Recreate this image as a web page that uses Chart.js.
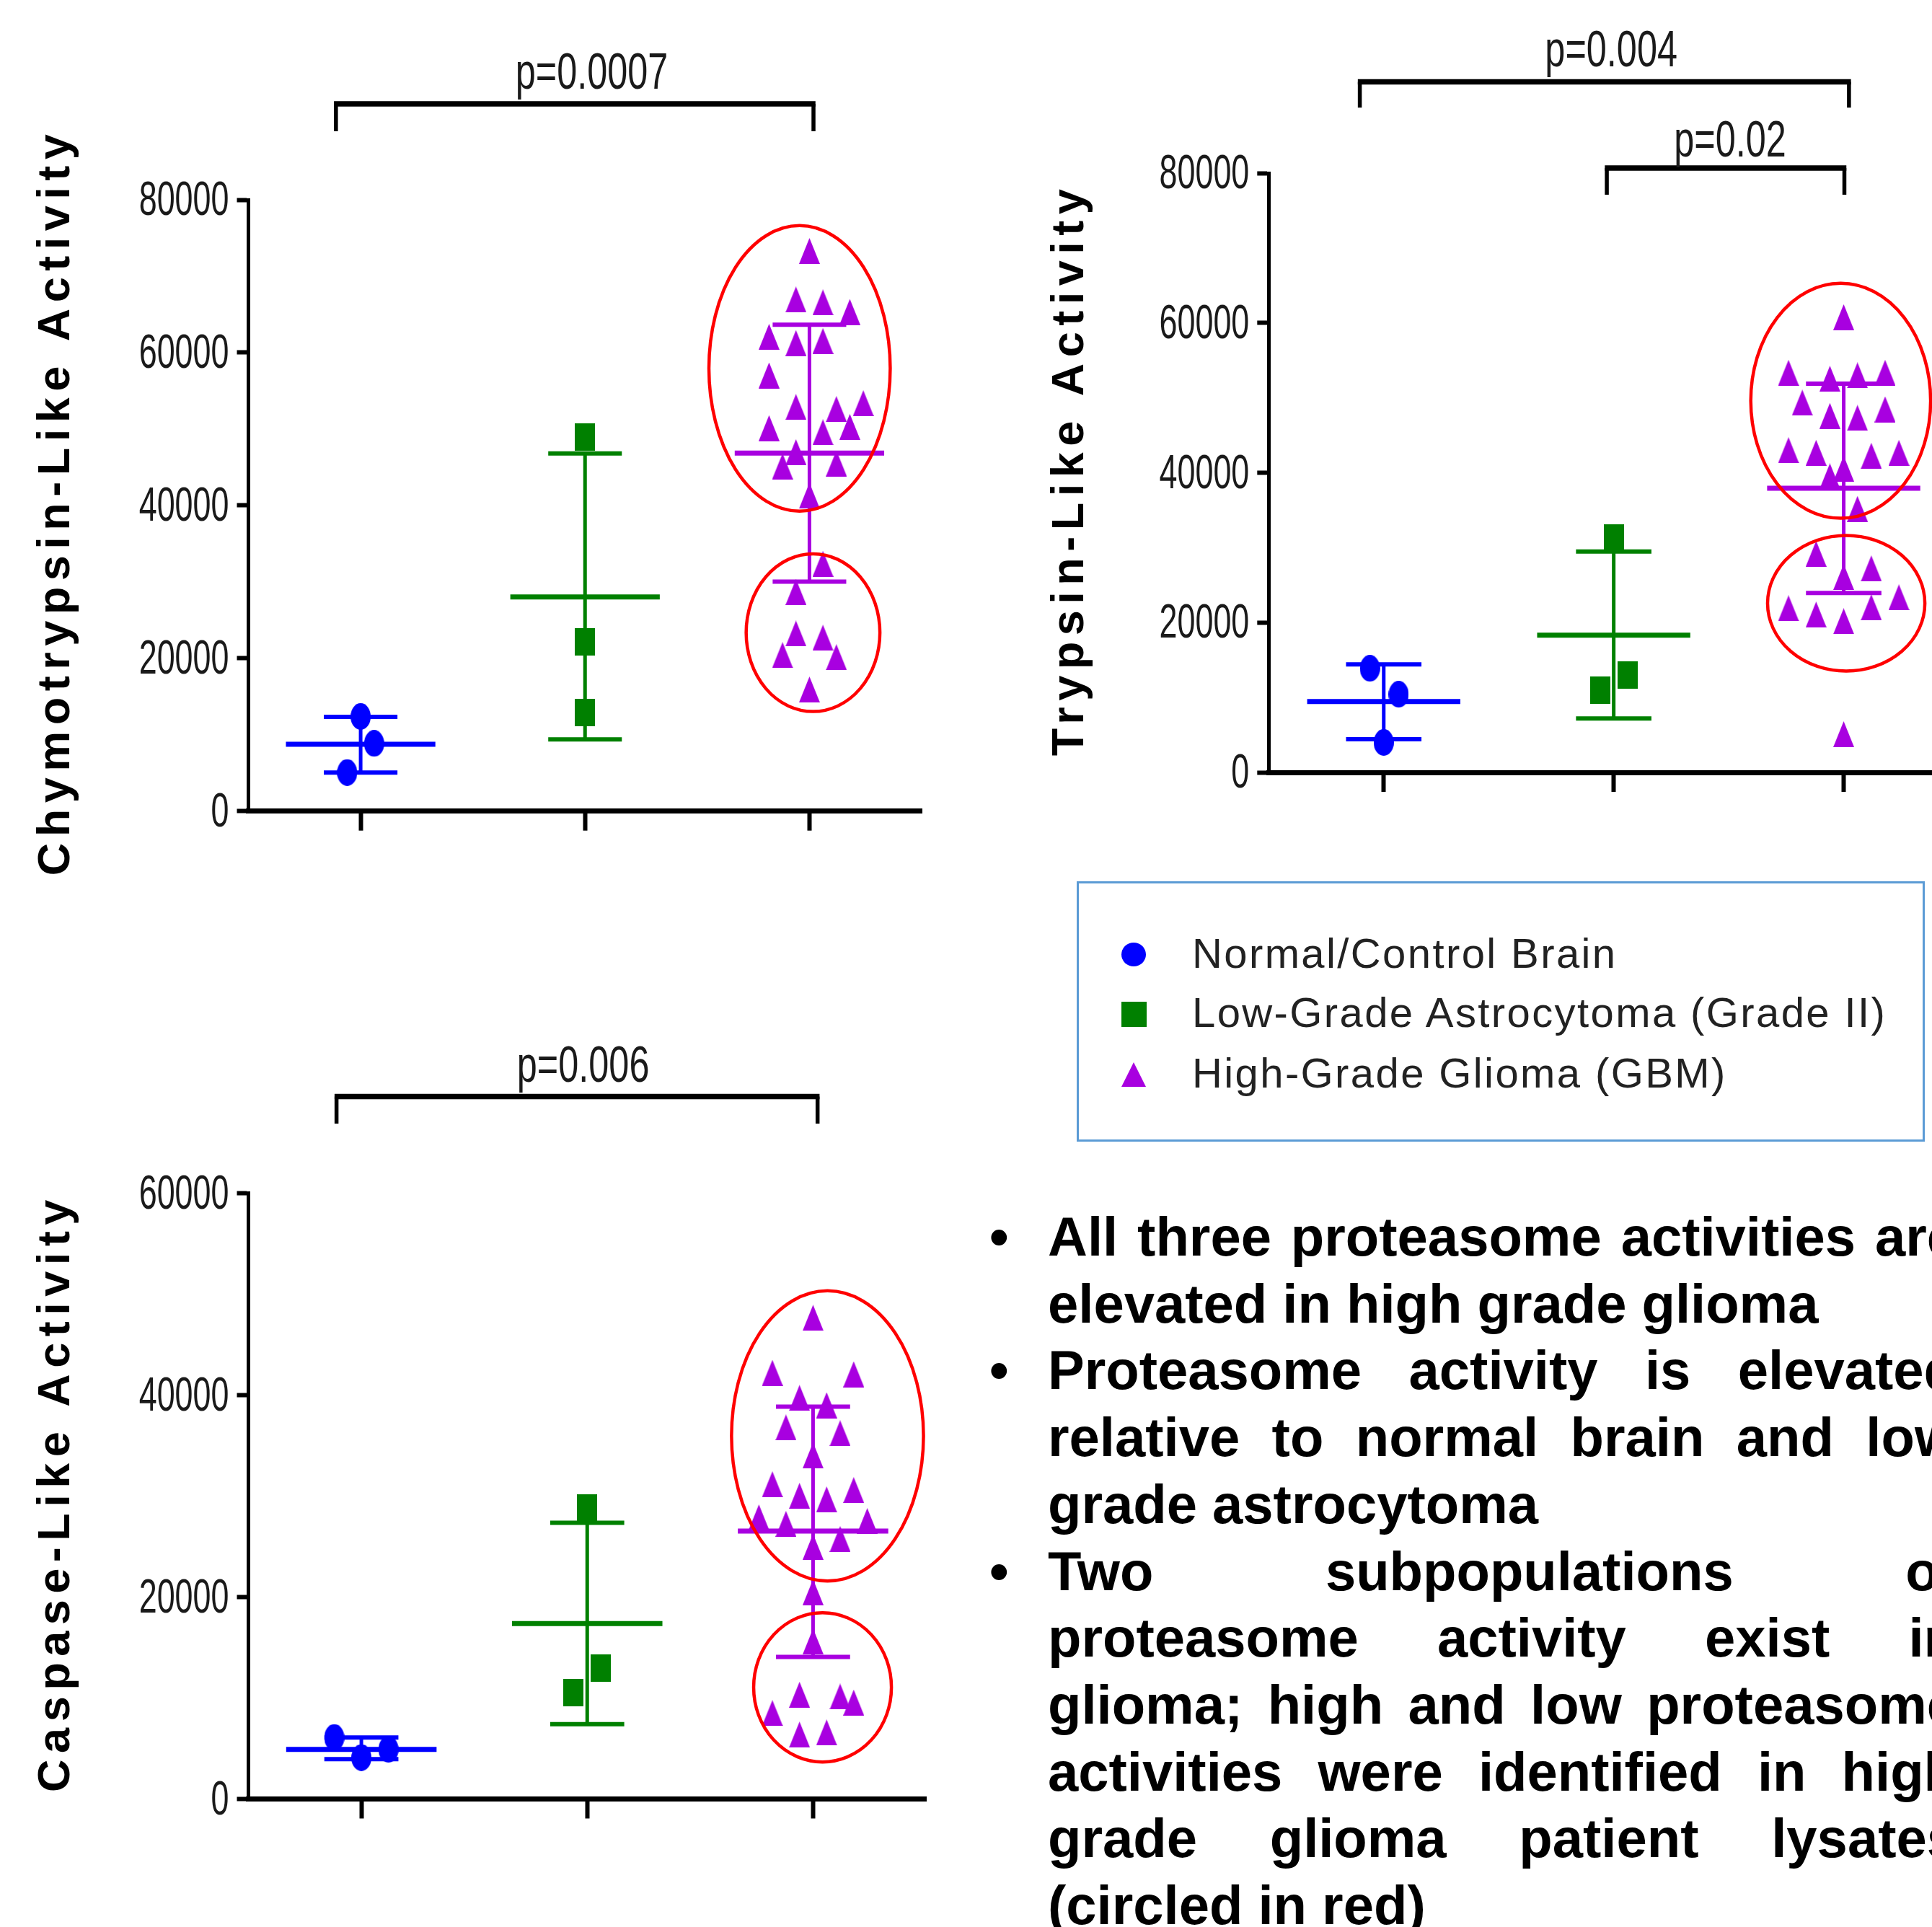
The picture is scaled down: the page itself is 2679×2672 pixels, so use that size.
<!DOCTYPE html>
<html lang="en">
<head>
    <meta charset="UTF-8">
    <meta name="viewport" content="width=device-width, initial-scale=1.0">
    <title>Proteasome Activity in Glioma</title>
    <script src="https://cdn.jsdelivr.net/npm/chart.js"></script>
    <style>
        html, body {
            margin: 0;
            padding: 0;
            width: 2679px;
            height: 2672px;
            overflow: hidden;
            background: #fff;
            font-family: "Liberation Sans", Arial, sans-serif;
        }
        .panel {
            position: absolute;
            left: 0;
            top: 0;
        }
        #legendBox {
            position: absolute;
            left: 1493px;
            top: 1222px;
            width: 1170px;
            height: 355px;
            border: 3px solid #5b9bd5;
        }
        .legend-text {
            position: absolute;
            left: 1653px;
            font-size: 58px;
            line-height: 58px;
            letter-spacing: 2.4px;
            color: #222;
            white-space: nowrap;
        }
        .marker {
            position: absolute;
        }
        .line {
            position: absolute;
            left: 1453px;
            width: 1261px;
            font-size: 76px;
            font-weight: bold;
            line-height: 76px;
            color: #000;
            text-align: justify;
            text-align-last: justify;
        }
        .line.last {
            text-align-last: left;
        }
        .bullet {
            position: absolute;
            left: 1372px;
            font-size: 76px;
            font-weight: bold;
            line-height: 76px;
        }
    </style>
</head>
<body>
    <canvas id="chymoChart" class="panel" width="2800" height="2672"></canvas>
    <canvas id="trypsinChart" class="panel" width="2800" height="2672"></canvas>
    <canvas id="caspaseChart" class="panel" width="2800" height="2672"></canvas>

    <div id="legendBox"></div>
    <div id="notes"></div>

    <script>
        // groups (x categories)
        const groups = ["Normal/Control Brain", "Low-Grade Astrocytoma (Grade II)", "High-Grade Glioma (GBM)"];

        // Chymotrypsin-like activity
        const chymoTicks = [0, 20000, 40000, 60000, 80000];
        const chymoNormal = [12380, 8851, 5050];
        const chymoNormalX = [0, 0.06, -0.06];
        const chymoLow = [48924, 22154, 12923];
        const chymoLowX = [0, 0, 0];
        const chymoHigh = [73305, 66952, 66572, 65323, 62065, 61250, 61522, 57015, 52888, 52617, 53377, 50119, 49576,
            50282, 46970, 45123, 45503, 41268, 32363, 28670, 23240, 22697, 20417, 20145, 15910];
        const chymoHighX = [0, -0.06, 0.06, 0.18, -0.18, -0.06, 0.06, -0.18, -0.06, 0.12, 0.24, -0.18, 0.06,
            0.18, -0.06, -0.12, 0.12, 0, 0.06, -0.06, -0.06, 0.06, -0.12, 0.12, 0];
        const chymoMean = [8742, 28019, 46861];
        const chymoSdHigh = [12326, 46807, 63640];
        const chymoSdLow = [5050, 9394, 30028];
        const chymoP = ["p=0.0007"];

        // Trypsin-like activity
        const trypsinTicks = [0, 20000, 40000, 60000, 80000];
        const trypsinNormal = [13882, 10422, 3992];
        const trypsinNormalX = [-0.06, 0.065, 0];
        const trypsinLow = [31267, 12995, 10954];
        const trypsinLowX = [0, 0.06, -0.06];
        const trypsinHigh = [60760, 53350, 52550, 53000, 53350, 49360, 47590, 47320, 48470, 43020, 42660, 42270, 42660,
            40540, 39520, 35170, 29180, 27230, 26080, 23370, 21910, 21070, 22040, 20180, 5100];
        const trypsinHighX = [0, -0.24, -0.06, 0.06, 0.18, -0.18, -0.06, 0.06, 0.18, -0.24, -0.12, 0.12, 0.24,
            0, -0.06, 0.06, -0.12, 0.12, 0, 0.24, -0.24, -0.12, 0.12, 0, 0];
        const trypsinMean = [9447, 18317, 37919];
        const trypsinSdHigh = [14414, 29493, 51890];
        const trypsinSdLow = [4435, 7185, 23949];
        const trypsinP = ["p=0.004", "p=0.02"];

        // Caspase-like activity
        const caspaseTicks = [0, 20000, 40000, 60000];
        const caspaseNormal = [6091, 4096, 4916];
        const caspaseNormalX = [-0.12, 0, 0.12];
        const caspaseLow = [28852, 12930, 10508];
        const caspaseLowX = [0, 0.06, -0.06];
        const caspaseHigh = [47660, 42210, 42070, 39720, 39000, 36800, 36230, 34020, 31170, 30030, 29670, 30600, 27890,
            27250, 27530, 25750, 24970, 20480, 15600, 10330, 10150, 9550, 8510, 6380, 6590];
        const caspaseHighX = [0, -0.18, 0.18, -0.06, 0.06, -0.12, 0.12, 0, -0.18, -0.06, 0.06, 0.18, -0.24,
            -0.12, 0.24, 0.12, 0, 0, 0, -0.06, 0.12, 0.18, -0.18, -0.06, 0.06];
        const caspaseMean = [4916, 17383, 26537];
        const caspaseSdHigh = [6091, 27356, 38862];
        const caspaseSdLow = [3954, 7409, 14070];
        const caspaseP = ["p=0.006"];

        const notes = [
            ["All three proteasome activities are", "elevated in high grade glioma"],
            ["Proteasome activity is elevated", "relative to normal brain and low", "grade astrocytoma"],
            ["Two subpopulations of", "proteasome activity exist in", "glioma; high and low proteasome",
                "activities were identified in high", "grade glioma patient lysates", "(circled in red)"]
        ];

        // ---- drawing ----
        const CANVAS_W = 2800, CANVAS_H = 2672;
        const colors = ["#0000ff", "#008000", "#a800e0"];
        const FONT = '"Liberation Sans", Arial, sans-serif';

        function markerImage(shape, color, w, h) {
            const c = document.createElement("canvas");
            c.width = w;
            c.height = h;
            const g = c.getContext("2d");
            g.fillStyle = color;
            g.beginPath();
            if (shape === "circle") g.ellipse(w / 2, h / 2, w / 2, h / 2, 0, 0, Math.PI * 2);
            else if (shape === "rect") g.rect(0, 0, w, h);
            else { g.moveTo(w / 2, 0); g.lineTo(w, h); g.lineTo(0, h); g.closePath(); }
            g.fill();
            return c;
        }
        const markers = [
            markerImage("circle", colors[0], 28, 37),
            markerImage("rect", colors[1], 28, 38),
            markerImage("triangle", colors[2], 29, 36)
        ];

        function buildDatasets(values, offsets, means, highs, lows) {
            const ds = [];
            values.forEach((vals, g) => {
                const seg = (x1, y1, x2, y2, w) => ({
                    data: [{ x: x1, y: y1 }, { x: x2, y: y2 }],
                    showLine: true, borderColor: colors[g], borderWidth: w,
                    borderCapStyle: "butt", pointRadius: 0, order: 1
                });
                ds.push(seg(g, lows[g], g, highs[g], 5));
                ds.push(seg(g - 0.333, means[g], g + 0.333, means[g], 7));
                ds.push(seg(g - 0.164, highs[g], g + 0.164, highs[g], 6));
                ds.push(seg(g - 0.164, lows[g], g + 0.164, lows[g], 6));
                ds.push({
                    label: groups[g],
                    data: vals.map((v, k) => ({ x: g + offsets[g][k], y: v })),
                    pointStyle: markers[g], pointRadius: 14, order: 0
                });
            });
            return ds;
        }

        function decorPlugin(cfg) {
            return {
                id: "decor",
                afterDatasetsDraw(chart) {
                    const { ctx } = chart;
                    const x = chart.scales.x, y = chart.scales.y;
                    ctx.save();
                    ctx.strokeStyle = "#ff0000";
                    ctx.lineWidth = 4.5;
                    cfg.ellipses.forEach(e => {
                        const cx = x.getPixelForValue(e.cx), cy = y.getPixelForValue(e.cy);
                        const rx = Math.abs(x.getPixelForValue(e.cx + e.rx) - cx);
                        const ry = Math.abs(y.getPixelForValue(e.cy + e.ry) - cy);
                        ctx.beginPath();
                        ctx.ellipse(cx, cy, rx, ry, 0, 0, Math.PI * 2);
                        ctx.stroke();
                    });
                    ctx.restore();
                },
                afterDraw(chart) {
                    const { ctx } = chart;
                    const x = chart.scales.x, y = chart.scales.y;
                    ctx.save();
                    ctx.fillStyle = "#1a1a1a";

                    // condensed tick labels
                    ctx.font = "66px " + FONT;
                    ctx.textAlign = "right";
                    ctx.textBaseline = "alphabetic";
                    y.ticks.forEach(t => {
                        ctx.save();
                        ctx.translate(chart.chartArea.left - 27, y.getPixelForValue(t.value) + 21);
                        ctx.scale(0.68, 1);
                        ctx.fillText(String(t.value), 0, 0);
                        ctx.restore();
                    });

                    // significance brackets
                    cfg.brackets.forEach(b => {
                        const x1 = x.getPixelForValue(b.x1), x2 = x.getPixelForValue(b.x2);
                        const yt = y.getPixelForValue(b.y), yl = y.getPixelForValue(b.leg);
                        ctx.strokeStyle = "#000";
                        ctx.lineWidth = 5.5;
                        ctx.beginPath();
                        ctx.moveTo(x1, yt); ctx.lineTo(x1, yl);
                        ctx.moveTo(x2, yt); ctx.lineTo(x2, yl);
                        ctx.stroke();
                        ctx.lineWidth = 7.5;
                        ctx.beginPath();
                        ctx.moveTo(x1 - 2.75, yt); ctx.lineTo(x2 + 2.75, yt);
                        ctx.stroke();
                        ctx.save();
                        ctx.font = "70px " + FONT;
                        ctx.textAlign = "center";
                        ctx.translate(x.getPixelForValue(b.tx), y.getPixelForValue(b.ty));
                        ctx.scale(0.72, 1);
                        ctx.fillText(b.text, 0, 0);
                        ctx.restore();
                    });

                    // rotated axis title
                    ctx.fillStyle = "#000";
                    ctx.font = "bold 63px " + FONT;
                    ctx.letterSpacing = "8.5px";
                    ctx.textAlign = "center";
                    ctx.translate(cfg.title.x, cfg.title.y);
                    ctx.rotate(-Math.PI / 2);
                    ctx.fillText(cfg.title.text, 0, 0);
                    ctx.restore();
                }
            };
        }

        function makePanel(id, box, ticks, datasets, decor) {
            return new Chart(document.getElementById(id), {
                type: "scatter",
                data: { datasets },
                options: {
                    responsive: false,
                    animation: false,
                    events: [],
                    devicePixelRatio: 1,
                    layout: { padding: { left: box.left, top: box.top, right: CANVAS_W - box.right, bottom: CANVAS_H - box.bottom } },
                    plugins: { legend: { display: false }, tooltip: { enabled: false } },
                    scales: {
                        x: {
                            type: "linear", min: -0.5, max: 2.5,
                            afterBuildTicks: s => { s.ticks = groups.map((g, i) => ({ value: i })); },
                            afterFit: s => { s.height = 0; },
                            ticks: { display: false },
                            grid: { drawOnChartArea: false, drawTicks: true, tickLength: 27, tickWidth: 6, tickColor: "#000" },
                            border: { display: true, color: "#000", width: 7 }
                        },
                        y: {
                            type: "linear", min: ticks[0], max: ticks[ticks.length - 1],
                            afterBuildTicks: s => { s.ticks = ticks.map(v => ({ value: v })); },
                            afterFit: s => { s.width = 0; },
                            ticks: { display: false },
                            grid: { drawOnChartArea: false, drawTicks: true, tickLength: 16, tickWidth: 6, tickColor: "#000" },
                            border: { display: true, color: "#000", width: 5 }
                        }
                    }
                },
                plugins: [decorPlugin(decor)]
            });
        }

        makePanel("chymoChart", { left: 344.5, top: 277, right: 1278, bottom: 1124.7 }, chymoTicks,
            buildDatasets([chymoNormal, chymoLow, chymoHigh], [chymoNormalX, chymoLowX, chymoHighX], chymoMean, chymoSdHigh, chymoSdLow),
            {
                title: { text: "Chymotrypsin-Like Activity", x: 96, y: 696 },
                brackets: [{ x1: -0.11, x2: 2.018, y: 92560, leg: 88970, text: chymoP[0], tx: 1.03, ty: 94540 }],
                ellipses: [{ cx: 1.956, cy: 57938, rx: 0.404, ry: 18679 }, { cx: 2.016, cy: 23349, rx: 0.298, ry: 10317 }]
            });

        makePanel("trypsinChart", { left: 1759.3, top: 240, right: 2716, bottom: 1071 }, trypsinTicks,
            buildDatasets([trypsinNormal, trypsinLow, trypsinHigh], [trypsinNormalX, trypsinLowX, trypsinHighX], trypsinMean, trypsinSdHigh, trypsinSdLow),
            {
                title: { text: "Trypsin-Like Activity", x: 1502, y: 651 },
                brackets: [
                    { x1: -0.104, x2: 2.023, y: 92180, leg: 88730, text: trypsinP[0], tx: 0.989, ty: 94280 },
                    { x1: 0.970, x2: 2.003, y: 80670, leg: 77110, text: trypsinP[1], tx: 1.506, ty: 82240 }
                ],
                ellipses: [{ cx: 1.987, cy: 49606, rx: 0.391, ry: 15678 }, { cx: 2.011, cy: 22574, rx: 0.342, ry: 9048 }]
            });

        makePanel("caspaseChart", { left: 344.5, top: 1654.5, right: 1284, bottom: 2494.5 }, caspaseTicks,
            buildDatasets([caspaseNormal, caspaseLow, caspaseHigh], [caspaseNormalX, caspaseLowX, caspaseHighX], caspaseMean, caspaseSdHigh, caspaseSdLow),
            {
                title: { text: "Caspase-Like Activity", x: 96, y: 2070 },
                brackets: [{ x1: -0.11, x2: 2.02, y: 69570, leg: 66890, text: caspaseP[0], tx: 0.982, ty: 71040 }],
                ellipses: [{ cx: 2.064, cy: 35959, rx: 0.425, ry: 14373 }, { cx: 2.042, cy: 11060, rx: 0.305, ry: 7391 }]
            });

        // legend
        const legendRows = [1342, 1424, 1508];
        const markerCss = [
            "width:34px;height:33px;border-radius:50%;",
            "width:35px;height:35px;",
            "width:34px;height:34px;clip-path:polygon(50% 0,100% 100%,0 100%);"
        ];
        groups.forEach((name, i) => {
            const m = document.createElement("div");
            m.className = "marker";
            m.style.cssText = markerCss[i] + "background:" + colors[i] + ";left:1555px;top:" + (legendRows[i] - 35) + "px;";
            document.body.appendChild(m);
            const t = document.createElement("div");
            t.className = "legend-text";
            t.style.top = (legendRows[i] - 49.1) + "px";
            t.textContent = name;
            document.body.appendChild(t);
        });

        // bullet notes
        let row = 0;
        notes.forEach(par => {
            par.forEach((text, k) => {
                const top = 1741.3 + 92.7 * row - 64.3;
                if (k === 0) {
                    const b = document.createElement("div");
                    b.className = "bullet";
                    b.style.top = top + "px";
                    b.textContent = "\u2022";
                    document.body.appendChild(b);
                }
                const d = document.createElement("div");
                d.className = "line" + (k === par.length - 1 ? " last" : "");
                d.style.top = top + "px";
                d.textContent = text;
                document.body.appendChild(d);
                row++;
            });
        });
    </script>
</body>
</html>
